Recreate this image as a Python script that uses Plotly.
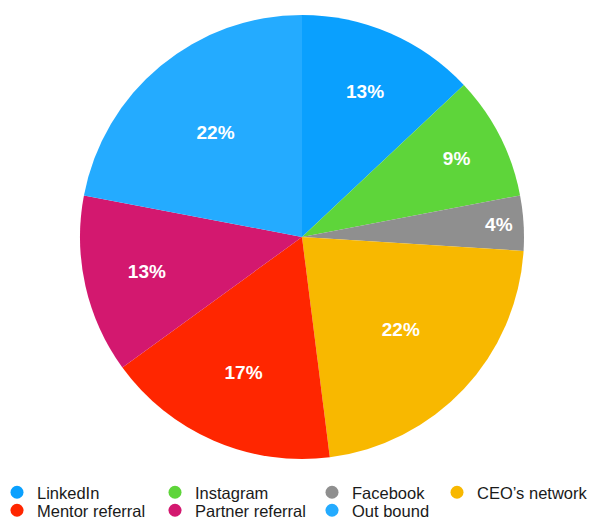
import plotly.graph_objects as go

labels = ["LinkedIn", "Instagram", "Facebook", "CEO’s network",
          "Mentor referral", "Partner referral", "Out bound"]
values = [13, 9, 4, 22, 17, 13, 22]
colors = ["#0AA0FE", "#5ED53A", "#8F8F8F", "#F8B800",
          "#FF2600", "#D3186F", "#24ABFF"]
# legend grid cell (column, row) for each entry
legend_cell = [(0, 0), (1, 0), (2, 0), (3, 0), (0, 1), (1, 1), (2, 1)]

W, H = 592, 519
cx, cy, r = 302, 237, 222

fig = go.Figure()
fig.add_trace(go.Pie(
    labels=labels, values=values, sort=False, direction="clockwise",
    rotation=0, marker=dict(colors=colors, line=dict(width=0)),
    texttemplate="<b>%{value}%</b>", textposition="inside",
    insidetextorientation="horizontal",
    textfont=dict(family="Liberation Sans, Arial, sans-serif", size=19, color="white"),
    hoverinfo="skip", showlegend=False,
    domain=dict(x=[(cx - r) / W, (cx + r) / W], y=[(H - cy - r) / H, (H - cy + r) / H]),
))

col_left_px = [-3, 155, 312, 437]
row_top_px = [475, 493]
lay = {}
for i, (lab, col, cell) in enumerate(zip(labels, colors, legend_cell)):
    name = "legend" if i == 0 else f"legend{i + 1}"
    fig.add_trace(go.Scatter(
        x=[None], y=[None], mode="markers", name=lab, legend=name,
        marker=dict(symbol="circle", size=13, color=col),
        hoverinfo="skip",
    ))
    c, rw = cell
    lay[name] = dict(
        x=col_left_px[c] / W, y=(H - row_top_px[rw]) / H,
        xanchor="left", yanchor="top", orientation="v",
        font=dict(family="Liberation Sans, Arial, sans-serif", size=16.5, color="#1a1a1a"),
        bgcolor="rgba(0,0,0,0)", itemwidth=30,
    )

fig.update_layout(
    width=W, height=H,
    margin=dict(l=0, r=0, t=0, b=0, pad=0, autoexpand=False),
    paper_bgcolor="white", plot_bgcolor="white",
    xaxis=dict(visible=False), yaxis=dict(visible=False),
    **lay,
)
fig.write_html("out.html")
